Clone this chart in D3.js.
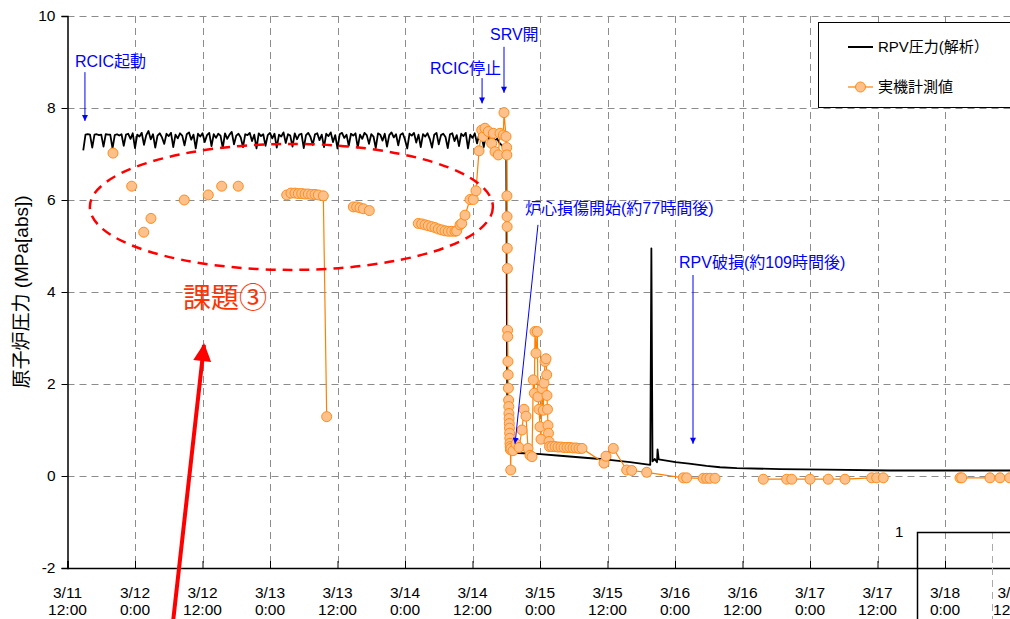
<!DOCTYPE html>
<html>
<head>
<meta charset="utf-8">
<script src="https://cdn.jsdelivr.net/npm/d3@7"></script>
<style>
  body { margin: 0; background: #fff; }
  svg { display: block; font-family: "Liberation Sans", Arial, "Noto Sans CJK JP", sans-serif; }
</style>
</head>
<body>
<svg id="chart" width="1010" height="619"></svg>
<script>
// hours counted from 3/11 12:00
const xTickHours = [0, 12, 24, 36, 48, 60, 72, 84, 96, 108, 120, 132, 144, 156, 168, 180];
const xTickDates = ["3/11", "3/12", "3/12", "3/13", "3/13", "3/14", "3/14", "3/15", "3/15", "3/16", "3/16", "3/17", "3/17", "3/18", "3/18", "3/19"];
const xTickTimes = ["12:00", "0:00", "12:00", "0:00", "12:00", "0:00", "12:00", "0:00", "12:00", "0:00", "12:00", "0:00", "12:00", "0:00", "12:00", "0:00"];
const yTicks = [-2, 0, 2, 4, 6, 8, 10];

// RPV pressure (analysis) while RCIC runs: one value every 0.4 h from 2.8 h
const rcicStart = 2.8, rcicStep = 0.4;
const rcicMPa = [
  7.08, 7.42, 7.43, 7.42, 7.14, 7.42, 7.43, 7.41, 7.42, 7.16, 7.43, 7.42, 7.42, 7.12, 7.41, 7.43, 7.40, 7.43, 7.18, 7.42,
  7.44, 7.33, 7.45, 7.13, 7.42, 7.38, 7.46, 7.20, 7.41, 7.50, 7.32, 7.43, 7.14, 7.40, 7.45, 7.36, 7.22, 7.44, 7.39, 7.46,
  7.15, 7.42, 7.34, 7.45, 7.40, 7.19, 7.43, 7.47, 7.31, 7.42, 7.12, 7.44, 7.38, 7.45, 7.26, 7.41, 7.46, 7.17, 7.43, 7.35,
  7.44, 7.40, 7.13, 7.45, 7.33, 7.42, 7.48, 7.21, 7.40, 7.44, 7.36, 7.15, 7.43, 7.41, 7.46, 7.28, 7.42, 7.12, 7.45, 7.39,
  7.43, 7.18, 7.41, 7.46, 7.34, 7.44, 7.14, 7.42, 7.38, 7.47, 7.24, 7.43, 7.40, 7.16, 7.45, 7.32, 7.42, 7.44, 7.13, 7.41,
  7.46, 7.37, 7.20, 7.43, 7.45, 7.30, 7.42, 7.15, 7.44, 7.39, 7.47, 7.26, 7.41, 7.12, 7.43, 7.46, 7.35, 7.42, 7.18, 7.44,
  7.40, 7.45, 7.14, 7.42, 7.33, 7.46, 7.41, 7.22, 7.43, 7.38, 7.13, 7.45, 7.42, 7.29, 7.44, 7.16, 7.41, 7.47, 7.36, 7.43,
  7.19, 7.42, 7.45, 7.31, 7.12, 7.44, 7.40, 7.46, 7.25, 7.42, 7.15, 7.43, 7.38, 7.45, 7.33, 7.14, 7.42, 7.46, 7.21, 7.41,
  7.44, 7.37, 7.13, 7.43, 7.45, 7.28, 7.41, 7.17, 7.44, 7.39, 7.46, 7.12, 7.42, 7.35, 7.45, 7.23, 7.43, 7.40, 7.15, 7.44,
  7.38, 7.20, 7.36, 7.30, 7.33, 7.24
];
// RPV pressure (analysis) after SRV opening
const rpvTailHours = [77.5, 78.0, 78.2, 80.0, 83.5, 87.6, 94.7, 100.0, 103.6, 103.8, 104.0, 104.4, 104.8, 104.9, 105.1, 108.1, 110.5, 113.6, 116.0, 119.0, 126.7, 135.0, 146.2, 180];
const rpvTailMPa   = [7.15, 6.95, 0.55, 0.50, 0.48, 0.44, 0.37, 0.30, 0.24, 4.95, 0.32, 0.37, 0.30, 0.58, 0.36, 0.30, 0.27, 0.22, 0.19, 0.17, 0.15, 0.14, 0.12, 0.12];

// plant measurements, null = break in the line
const measHours = [
  8.09, 8.1, 11.41, 11.5, 13.55, 13.6, 14.84, 14.9, 20.76, 20.8, 25.03, 25.1, 27.41, 27.5, 30.36, 30.4,
  38.97, 39.73, 40.44, 41.03, 41.64, 42.22, 42.81, 43.41, 44.00, 44.59, 45.48, 46.08, 46.1,
  50.81, 51.41, 52.00, 52.59, 53.65, 53.7,
  62.36, 62.97, 63.56, 64.14, 64.75, 65.33, 65.92, 66.52, 67.11, 67.70, 68.30, 68.89, 69.19, 69.78, 70.08, 70.67,
  71.56, 72.14, 72.62, 73.16, 73.64, 73.92, 74.22, 74.81, 75.41, 75.70, 76.00, 76.59, 76.89, 77.48, 77.60, 77.96,
  78.08, 78.10, 78.12, 78.14, 78.16, 78.18, 78.20, 78.24, 78.26, 78.30, 78.34, 78.38, 78.42, 78.45, 78.48, 78.51,
  78.54, 78.57, 78.60, 78.63, 78.66, 78.70, 78.74, 78.80,
  78.84, 79.20, 79.73, 80.27, 80.80, 81.16, 81.51, 81.87, 82.22, 82.58, 82.81, 82.99, 83.11, 83.29, 83.52, 83.64,
  83.82, 84.00, 84.18, 84.36, 84.59, 84.71, 84.89, 85.07, 85.19, 85.24, 85.33, 85.42, 85.51, 85.60, 85.69,
  86.13, 86.67, 87.20, 87.73, 88.27, 88.80, 89.33, 89.87, 90.40, 90.93, 91.47,
  95.38, 95.73, 97.03, 99.41, 100.30, 102.97, 109.47, 110.08, 113.03, 113.64, 114.22, 115.11, 115.2,
  123.70, 127.86, 128.75, 132.00, 135.25, 138.22, 142.97, 143.86, 145.03, 145.1,
  158.67, 158.97, 164.00, 165.78, 167.5
];
const measMPa = [
  7.02, null, 6.30, null, 5.30, null, 5.60, null, 6.00, null, 6.11, null, 6.30, null, 6.30, null,
  6.11, 6.15, 6.15, 6.14, 6.14, 6.13, 6.13, 6.12, 6.12, 6.11, 6.09, 1.29, null,
  5.85, 5.85, 5.83, 5.81, 5.77, null,
  5.49, 5.48, 5.46, 5.44, 5.42, 5.40, 5.37, 5.35, 5.33, 5.32, 5.32, 5.32, 5.33, 5.46, 5.49, 5.67,
  6.01, 6.01, 6.20, 7.07, 7.52, 7.38, 7.56, 7.49, 7.23, 7.45, 7.05, 6.98, 7.45, 7.41, 7.90, 7.38,
  7.14, 6.98, 6.09, 5.64, 5.42, 4.95, 4.51, 3.17, 3.03, 2.49, 2.20, 1.91, 1.65, 1.51, 1.36, 1.25,
  1.14, 1.04, 0.93, 0.82, 0.71, 0.64, 0.57, 0.13,
  0.60, 0.55, 0.70, 0.62, 1.00, 1.45, 1.30, 0.60, 0.45, 0.42, 2.09, 1.80, 3.14, 2.67, 3.14, 1.72,
  1.45, 1.07, 0.80, 1.90, 1.43, 2.02, 2.49, 2.55, 2.20, 1.75, 1.45, 1.10, 0.93, 0.75, 0.64,
  0.64, 0.64, 0.63, 0.63, 0.62, 0.62, 0.62, 0.61, 0.61, 0.60, 0.60,
  0.28, 0.43, 0.60, 0.13, 0.12, 0.08, -0.04, -0.04, -0.05, -0.05, -0.05, -0.05, null,
  -0.07, -0.07, -0.07, -0.07, -0.07, -0.07, -0.04, -0.04, -0.04, null,
  -0.04, -0.04, -0.04, -0.04, -0.04
];

const svg = d3.select("#chart");
const plotLeft = 67.5, plotTop = 16, plotBottom = 568;
const x = d3.scaleLinear().domain([0, 180]).range([plotLeft, plotLeft + 180 * 5.625]);
const y = d3.scaleLinear().domain([-2, 10]).range([plotBottom, plotTop]);

const defs = svg.append("defs");
defs.append("marker").attr("id", "blueHead")
  .attr("viewBox", "0 0 10 10").attr("refX", 10).attr("refY", 5)
  .attr("markerUnits", "userSpaceOnUse").attr("markerWidth", 7).attr("markerHeight", 6)
  .attr("orient", "auto")
  .append("path").attr("d", "M0,0L10,5L0,10Z").attr("fill", "#0000ff");
defs.append("marker").attr("id", "redHead")
  .attr("viewBox", "0 0 10 10").attr("refX", 9).attr("refY", 5)
  .attr("markerUnits", "userSpaceOnUse").attr("markerWidth", 22).attr("markerHeight", 18)
  .attr("orient", "auto")
  .append("path").attr("d", "M0,0L10,5L0,10Z").attr("fill", "#ff0000");

// grid
const grid = svg.append("g").attr("stroke", "#8c8c8c").attr("stroke-width", 1).attr("stroke-dasharray", "7,5");
grid.selectAll(".gy").data(yTicks.filter(d => d > -2)).enter().append("line")
  .attr("x1", plotLeft).attr("x2", 1010).attr("y1", d => y(d) + 0.5).attr("y2", d => y(d) + 0.5);
grid.selectAll(".gx").data(xTickHours.filter(d => d > 0)).enter().append("line")
  .attr("x1", d => Math.round(x(d)) + 0.5).attr("x2", d => Math.round(x(d)) + 0.5)
  .attr("y1", plotTop).attr("y2", plotBottom);

// axes
const yAxis = svg.append("g").attr("transform", `translate(${plotLeft},0)`)
  .call(d3.axisLeft(y).tickValues(yTicks).tickSize(6).tickPadding(6).tickFormat(d => String(d)));
yAxis.attr("font-family", null);
yAxis.select(".domain").attr("stroke", "#000").attr("stroke-width", 1.5);
yAxis.selectAll("text").attr("font-size", 15.5).attr("fill", "#000");

const xAxis = svg.append("g").attr("transform", `translate(0,${plotBottom})`)
  .call(d3.axisBottom(x).tickValues(xTickHours).tickSize(-7).tickFormat(""));
xAxis.select(".domain").attr("stroke", "#000").attr("stroke-width", 1.5);
xAxis.selectAll(".tick line").attr("stroke", "#000");

const xl = svg.append("g").attr("font-size", 15.5).attr("text-anchor", "middle").attr("fill", "#000");
xl.selectAll(".d").data(xTickHours).enter().append("text")
  .attr("x", d => x(d)).attr("y", 598).text((d, i) => xTickDates[i]);
xl.selectAll(".t").data(xTickHours).enter().append("text")
  .attr("x", d => x(d)).attr("y", 615).text((d, i) => xTickTimes[i]);

svg.append("text").attr("transform", `translate(28,${y(4)}) rotate(-90)`)
  .attr("text-anchor", "middle").attr("font-size", 19).text("原子炉圧力 (MPa[abs])");

// analysis line
const rpv = rcicMPa.map((v, i) => ({ h: rcicStart + i * rcicStep, v }))
  .concat(rpvTailHours.map((h, i) => ({ h, v: rpvTailMPa[i] })));
const line = d3.line().x(d => x(d.h)).y(d => y(d.v)).defined(d => d.v !== null);
svg.append("path").datum(rpv).attr("d", line)
  .attr("fill", "none").attr("stroke", "#000").attr("stroke-width", 1.8).attr("stroke-linejoin", "round");

// measured values
const meas = measHours.map((h, i) => ({ h, v: measMPa[i] }));
svg.append("path").datum(meas).attr("d", line)
  .attr("fill", "none").attr("stroke", "#ff8000").attr("stroke-width", 1.2);
svg.append("g").selectAll("circle").data(meas.filter(d => d.v !== null)).enter().append("circle")
  .attr("cx", d => x(d.h)).attr("cy", d => y(d.v)).attr("r", 5)
  .attr("fill", "#ffc08a").attr("stroke", "#ff8c1a").attr("stroke-width", 1);

// legend
const lg = svg.append("g");
lg.append("rect").attr("x", 818.5).attr("y", 22.5).attr("width", 200).attr("height", 85)
  .attr("fill", "#fff").attr("stroke", "#000").attr("stroke-width", 1);
lg.append("line").attr("x1", 848).attr("x2", 873).attr("y1", 47).attr("y2", 47)
  .attr("stroke", "#000").attr("stroke-width", 2);
lg.append("text").attr("x", 878).attr("y", 47).attr("dy", "0.35em").attr("font-size", 15).text("RPV圧力(解析）");
lg.append("line").attr("x1", 848).attr("x2", 873).attr("y1", 87).attr("y2", 87)
  .attr("stroke", "#ff8000").attr("stroke-width", 1.2);
lg.append("circle").attr("cx", 860.5).attr("cy", 87).attr("r", 5)
  .attr("fill", "#ffc08a").attr("stroke", "#ff8c1a");
lg.append("text").attr("x", 878).attr("y", 87).attr("dy", "0.35em").attr("font-size", 15).text("実機計測値");

// blue annotations: arrow from (h1,v1) to (h2,v2), label start at (tx,ty) in px
const notes = [
  { text: "RCIC起動", h1: 3.1, v1: 8.78, h2: 3.1, v2: 7.72, tx: 75, ty: 61 },
  { text: "RCIC停止", h1: 73.7, v1: 8.65, h2: 73.7, v2: 8.10, tx: 430, ty: 68 },
  { text: "SRV開", h1: 77.6, v1: 9.33, h2: 77.6, v2: 8.33, tx: 490, ty: 34 },
  { text: "炉心損傷開始(約77時間後)", h1: 83.64, v1: 5.46, h2: 79.56, v2: 0.70, tx: 525, ty: 208 },
  { text: "RPV破損(約109時間後)", h1: 111.2, v1: 4.37, h2: 111.2, v2: 0.70, tx: 679, ty: 262 }
];
const ng = svg.append("g");
ng.selectAll("line").data(notes).enter().append("line")
  .attr("x1", d => x(d.h1)).attr("y1", d => y(d.v1)).attr("x2", d => x(d.h2)).attr("y2", d => y(d.v2))
  .attr("stroke", "#0000ff").attr("stroke-width", 1).attr("marker-end", "url(#blueHead)");
ng.selectAll("text").data(notes).enter().append("text")
  .attr("x", d => d.tx).attr("y", d => d.ty).attr("dy", "0.35em")
  .attr("font-size", 16).attr("fill", "#0000ff").text(d => d.text);

// red annotation
svg.append("ellipse").attr("cx", x(39.8)).attr("cy", y(5.85)).attr("rx", 201.5).attr("ry", 63)
  .attr("fill", "none").attr("stroke", "#ff0000").attr("stroke-width", 2.5).attr("stroke-dasharray", "10,7");
svg.append("text").attr("x", 183).attr("y", 298).attr("dy", "0.35em")
  .attr("font-size", 28).attr("fill", "#ff3300").text("課題③");
svg.append("line").attr("x1", 171).attr("y1", 640).attr("x2", 204).attr("y2", 345)
  .attr("stroke", "#ff0000").attr("stroke-width", 4).attr("marker-end", "url(#redHead)");

// overlapping frame of the next figure at the lower right
const ov = svg.append("g");
ov.append("line").attr("x1", 992.5).attr("x2", 992.5).attr("y1", 532).attr("y2", 619)
  .attr("stroke", "#aaa").attr("stroke-dasharray", "7,5");
ov.append("path").attr("d", "M917.5,619V532.5H1010").attr("fill", "none").attr("stroke", "#000").attr("stroke-width", 1.5);
ov.append("text").attr("x", 895).attr("y", 532).attr("dy", "0.35em").attr("font-size", 15).text("1");
</script>
</body>
</html>
